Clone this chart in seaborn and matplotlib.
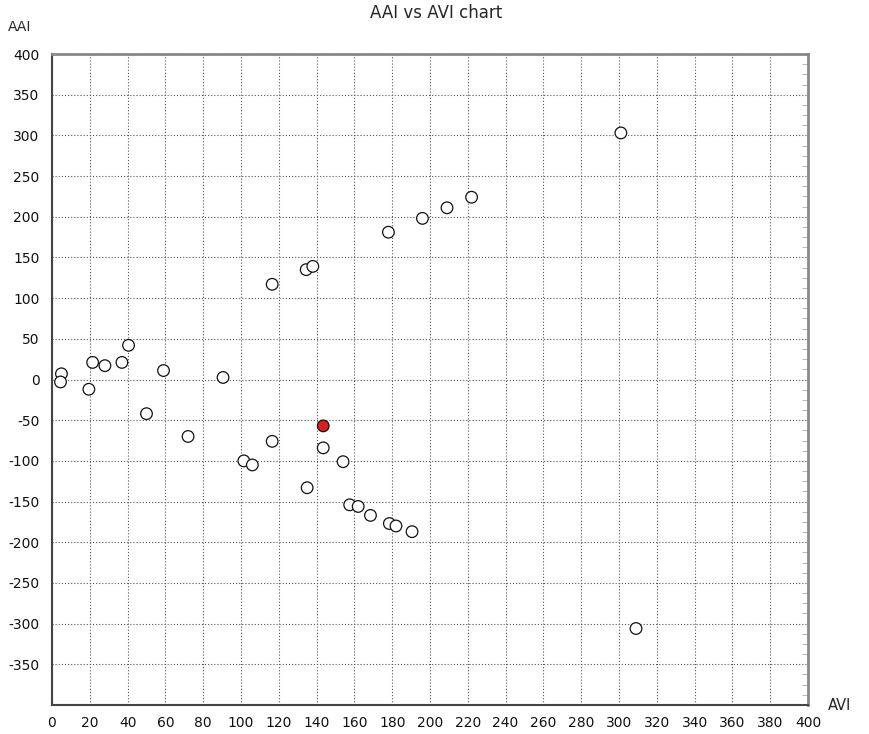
import numpy as np
import pandas as pd
import matplotlib
matplotlib.use("Agg")
import matplotlib.pyplot as plt
import seaborn as sns
from matplotlib.ticker import MultipleLocator

# AVI / AAI values
avi = [5, 4.5, 21.5, 28, 37, 40.5, 19.5, 50, 59, 90.5, 72,
       116.5, 101.5, 106, 143.5, 154, 135, 157.5, 162, 168.5, 178.5, 182, 190.5,
       116.5, 134.5, 138, 178, 196, 209, 222, 301, 309, 143.5]
aai = [7, -3, 21, 17, 21, 42, -12, -42, 11, 2.5, -70,
       -76, -100, -105, -84, -101, -133, -154, -156, -167, -177, -180, -187,
       117, 135, 139, 181, 198, 211, 224, 303, -306, -57]
group = ["normal"] * 32 + ["current"]

df = pd.DataFrame({"AVI": avi, "AAI": aai, "group": group})

sns.set_style("white")
plt.rcParams["font.family"] = ["DejaVu Sans"]

fig = plt.figure(figsize=(8.69, 7.34), dpi=100)
ax = fig.add_axes([52 / 869, 29 / 734, 756 / 869, 651 / 734])

sns.scatterplot(data=df, x="AVI", y="AAI", hue="group",
                palette={"normal": "white", "current": "#d8201c"},
                edgecolor="#111111", linewidth=0.9, s=70,
                legend=False, ax=ax, zorder=3)

ax.set_xlim(0, 400)
ax.set_ylim(-400, 400)
ax.xaxis.set_major_locator(MultipleLocator(20))
ax.xaxis.set_minor_locator(MultipleLocator(5))
ax.yaxis.set_major_locator(MultipleLocator(50))
ax.yaxis.set_minor_locator(MultipleLocator(12.5))

yt = list(range(400, -351, -50))
ax.set_yticks(yt)
ax.set_yticklabels([str(v) for v in yt])

ax.grid(True, which="major", linestyle=(0, (1, 1.8)), color="#555555", linewidth=0.8)
ax.tick_params(axis="both", which="major", labelsize=10, color="#999999",
               length=5, direction="in", labelcolor="#111111")
ax.tick_params(axis="x", which="major", pad=8)
ax.tick_params(axis="both", which="minor", color="#aaaaaa", length=4, direction="in",
               right=True)
ax.tick_params(axis="y", which="major", direction="inout", length=8, pad=5)

for side in ["left", "bottom"]:
    ax.spines[side].set_color("#444444")
    ax.spines[side].set_linewidth(1.5)
for side in ["top", "right"]:
    ax.spines[side].set_color("#888888")
    ax.spines[side].set_linewidth(2)

ax.set_xlabel("")
ax.set_ylabel("")
fig.text(436 / 869, 1 - 13 / 734, "AAI vs AVI chart", ha="center", va="center", fontsize=12)
fig.text(20 / 869, 1 - 27 / 734, "AAI", ha="center", va="center", fontsize=10)
fig.text(840 / 869, 1 - 706 / 734, "AVI", ha="center", va="center", fontsize=10.5)

fig.savefig("out.png", dpi=100)
